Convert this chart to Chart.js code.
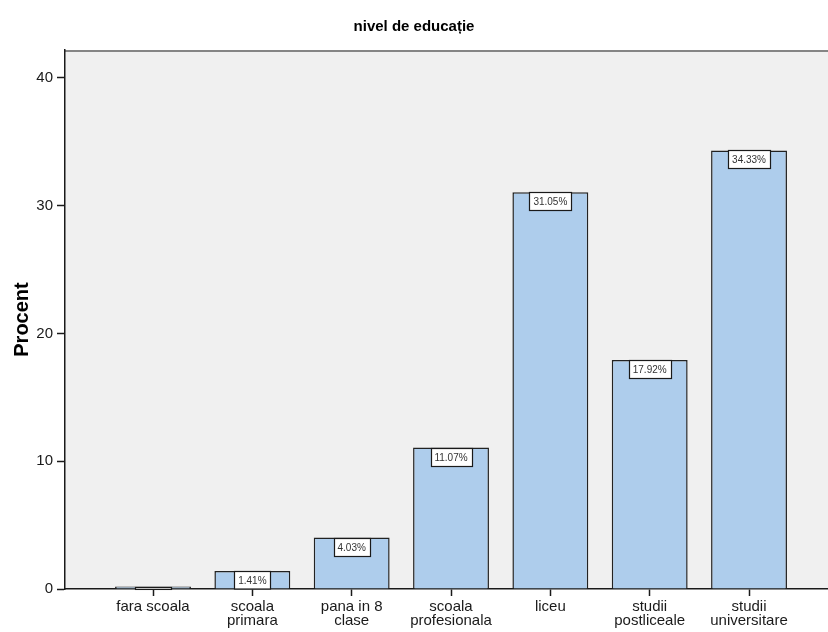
<!DOCTYPE html>
<html>
<head>
<meta charset="utf-8">
<script src="https://cdn.jsdelivr.net/npm/chart.js@4.4.0/dist/chart.umd.min.js"></script>
<style>
  html, body { margin: 0; padding: 0; background: #fff; }
  #wrap { width: 828px; height: 632px; }
</style>
</head>
<body>
<div id="wrap"><canvas id="chart" width="828" height="632"></canvas></div>
<script>
"use strict";

const categories = [
  ['fara scoala'],
  ['scoala', 'primara'],
  ['pana in 8', 'clase'],
  ['scoala', 'profesionala'],
  ['liceu'],
  ['studii', 'postliceale'],
  ['studii', 'universitare']
];
const procent = [0.19, 1.41, 4.03, 11.07, 31.05, 17.92, 34.33];
const yTicks = [0, 10, 20, 30, 40];

const font = "'Liberation Sans', Arial, sans-serif";

// grey plot background and top frame line
const plotBackground = {
  id: 'plotBackground',
  beforeDraw(chart) {
    const a = chart.chartArea;
    const ctx = chart.ctx;
    ctx.save();
    ctx.fillStyle = '#f0f0f0';
    ctx.fillRect(a.left, a.top, a.right - a.left, a.bottom - a.top);
    ctx.strokeStyle = '#858585';
    ctx.lineWidth = 2;
    ctx.beginPath();
    ctx.moveTo(a.left, a.top + 1);
    ctx.lineTo(a.right, a.top + 1);
    ctx.stroke();
    ctx.restore();
  }
};

// white percentage boxes at the top of each bar
const barLabels = {
  id: 'barLabels',
  afterDatasetsDraw(chart) {
    const ctx = chart.ctx;
    const meta = chart.getDatasetMeta(0);
    ctx.save();
    ctx.font = '10px ' + font;
    meta.data.forEach(function(bar, i) {
      const txt = procent[i].toFixed(2) + '%';
      const w = Math.round(ctx.measureText(txt).width) + 8;
      const barH = bar.base - bar.y;
      const h = Math.min(18, barH);
      const x = Math.round(bar.x - w / 2) + 0.5;
      const y = Math.round(bar.y) + 0.5;
      ctx.fillStyle = '#ffffff';
      ctx.fillRect(x, y, w, h);
      ctx.strokeStyle = '#1a1a1a';
      ctx.lineWidth = 1.2;
      ctx.strokeRect(x, y, w, h);
      if (h >= 12) {
        ctx.fillStyle = '#333333';
        ctx.textAlign = 'center';
        ctx.textBaseline = 'middle';
        ctx.fillText(txt, bar.x, y + h / 2 + 0.5);
      }
    });
    ctx.restore();
  }
};

const chart = new Chart('chart', {
  type: 'bar',
  data: {
    datasets: [{
      data: procent.map(function(v, i) { return {x: i, y: v}; }),
      backgroundColor: '#aecdec',
      borderColor: '#222222',
      borderWidth: 1.5,
      categoryPercentage: 1,
      barPercentage: 0.764
    }]
  },
  plugins: [plotBackground, barLabels],
  options: {
    responsive: false,
    animation: false,
    layout: { padding: 0 },
    plugins: {
      legend: { display: false },
      tooltip: { enabled: false },
      title: {
        display: true,
        text: 'nivel de educație',
        color: '#000',
        font: { family: font, size: 15, weight: 'bold', lineHeight: 1.2 },
        padding: { top: 18, bottom: 14 }
      }
    },
    scales: {
      x: {
        type: 'linear',
        offset: false,
        min: -0.886,
        max: 6.795,
        afterBuildTicks: function(scale) {
          scale.ticks = categories.map(function(c, i) { return {value: i}; });
        },
        afterFit: function(scale) { scale.height = 43; },
        grid: { offset: false, drawOnChartArea: false, drawTicks: true, tickLength: 7, tickWidth: 1.5, tickColor: '#1a1a1a' },
        border: { display: true, color: '#1a1a1a', width: 1.5 },
        ticks: {
          padding: 4,
          maxRotation: 0,
          autoSkip: false,
          color: '#1a1a1a',
          font: { family: font, size: 15, lineHeight: '14px' },
          callback: function(value) { return categories[value]; }
        }
      },
      y: {
        min: 0,
        max: 42.19,
        afterBuildTicks: function(scale) {
          scale.ticks = yTicks.map(function(v) { return {value: v}; });
        },
        afterFit: function(scale) { scale.width = 65; },
        grid: { drawOnChartArea: false, drawTicks: true, tickLength: 8, tickWidth: 1.5, tickColor: '#1a1a1a' },
        border: { display: true, color: '#1a1a1a', width: 1.5 },
        ticks: {
          padding: 4,
          color: '#1a1a1a',
          font: { family: font, size: 15 }
        },
        title: {
          display: true,
          text: 'Procent',
          color: '#000',
          font: { family: font, size: 20, weight: 'bold', lineHeight: 1.2 },
          padding: { top: 10, bottom: 0 }
        }
      }
    }
  }
});
</script>
</body>
</html>
